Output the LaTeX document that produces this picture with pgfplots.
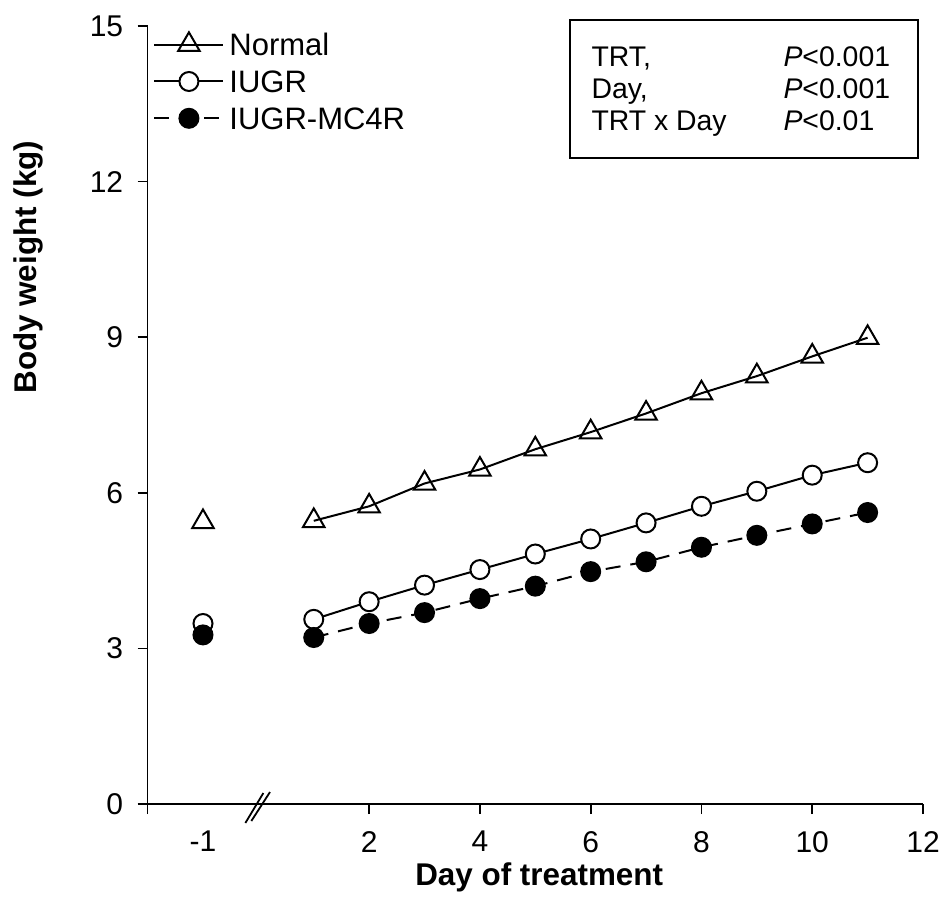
\documentclass[border=0pt]{standalone}
\usepackage{fontspec}
\setmainfont{Liberation Sans}
\usepackage{pgfplots}
\pgfplotsset{compat=1.18}
\begin{document}
\begin{tikzpicture}
\begin{axis}[
  name=ax,
  width=387.7pt, height=389pt, scale only axis,
  xmin=-2, xmax=12, ymin=0, ymax=15,
  axis lines=left,
  axis line style={-, line width=0.9pt},
  xtick={-2,2,4,6,8,10,12},
  xticklabels={,2,4,6,8,10,12},
  extra x ticks={-1}, extra x tick labels={-1},
  extra x tick style={tick style={draw=none}},
  ytick={0,3,6,9,12,15},
  tick align=outside, major tick length=5pt,
  tick style={line width=0.9pt, black},
  /pgf/number format/assume math mode=true,
  tick label style={font=\fontsize{15}{18}\selectfont},
  xticklabel style={yshift=-5pt},
  yticklabel style={xshift=-3.7pt},
  xlabel={\textbf{Day of treatment}},
  xlabel style={at={(axis description cs:0.505,-0.105)}, anchor=base, font=\fontsize{15.7}{18}\selectfont},
  ylabel={\textbf{Body weight (kg)}},
  ylabel style={at={(axis description cs:-0.154,0.69)}, anchor=center, font=\fontsize{15.7}{18}\selectfont},
  clip=false,
  legend cell align=left,
  legend style={at={(axis description cs:0.007,1)}, yshift=-2.95pt, anchor=north west, draw=none, fill=none,
    inner sep=0pt, column sep=2.5pt, row sep=7.3pt,
    font=\fontsize{15.5}{18}\selectfont,
    nodes={inner sep=0pt, text height=11.1pt, text depth=0pt}},
  legend image code/.code={\draw[mark repeat=2,mark phase=2,#1] plot coordinates {(0pt,0pt) (17.25pt,0pt) (34.5pt,0pt)};},
]
% Normal
\addplot[black, line width=1pt, mark=triangle, mark size=6.2pt, mark options={solid, fill=white, line width=1pt}]
  coordinates {(1,5.46)(2,5.74)(3,6.18)(4,6.45)(5,6.84)(6,7.17)(7,7.53)(8,7.92)(9,8.25)(10,8.63)(11,8.99)};
\addlegendentry{Normal}
\addplot[black, only marks, forget plot, mark=triangle, mark size=6.2pt, mark options={solid, fill=white, line width=1pt}]
  coordinates {(-1,5.44)};
% IUGR
\addplot[black, line width=1pt, mark=*, mark size=4.75pt, mark options={solid, fill=white, line width=1pt}]
  coordinates {(1,3.56)(2,3.90)(3,4.22)(4,4.52)(5,4.82)(6,5.11)(7,5.42)(8,5.74)(9,6.03)(10,6.34)(11,6.58)};
\addlegendentry{IUGR}
\addplot[black, only marks, forget plot, mark=*, mark size=4.75pt, mark options={solid, fill=white, line width=1pt}]
  coordinates {(-1,3.48)};
% IUGR-MC4R
\addplot[black, line width=1pt, dash pattern=on 7.5pt off 5pt, mark=*, mark size=4.75pt, mark options={solid, fill=black, line width=1pt}]
  coordinates {(1,3.21)(2,3.48)(3,3.69)(4,3.96)(5,4.20)(6,4.48)(7,4.67)(8,4.95)(9,5.18)(10,5.40)(11,5.62)};
\addlegendentry{IUGR-MC4R}
\addplot[black, only marks, forget plot, mark=*, mark size=4.75pt, mark options={solid, fill=black, line width=1pt}]
  coordinates {(-1,3.26)};
% axis break
\draw[line width=0.9pt] (axis cs:-0.235,-0.366) -- (axis cs:0.09,0.212);
\draw[line width=0.9pt] (axis cs:-0.127,-0.328) -- (axis cs:0.21,0.231);
% statistics box
\draw[line width=1pt] (axis description cs:0.5447,0.8303) rectangle (axis description cs:0.9935,1.0077);
\begin{scope}[every node/.style={anchor=base west, inner sep=0pt, font=\fontsize{14.2}{16}\selectfont}]
\node at (axis description cs:0.572,0.948) {TRT,};
\node at (axis description cs:0.572,0.9068) {Day,};
\node at (axis description cs:0.572,0.8657) {TRT x Day};
\node at (axis description cs:0.8196,0.948) {\textit{P}<0.001};
\node at (axis description cs:0.8196,0.9068) {\textit{P}<0.001};
\node at (axis description cs:0.8196,0.8657) {\textit{P}<0.01};
\end{scope}
\end{axis}
\pgfresetboundingbox
\path ([xshift=-73.8pt,yshift=-50.5pt]ax.south west) rectangle ([xshift=11.5pt,yshift=13pt]ax.north east);
\end{tikzpicture}
\end{document}
